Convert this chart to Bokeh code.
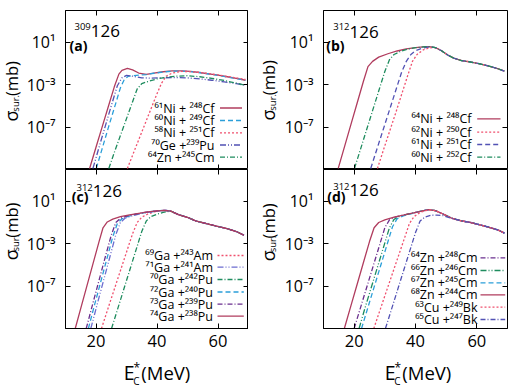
import numpy as np
from bokeh.plotting import figure
from bokeh.layouts import row, column
from bokeh.models import (Label, Arrow, FixedTicker, CustomJSTickFormatter, Range1d,
                          LogAxis, LinearAxis)
from bokeh.core.properties import value
from bokeh.embed import file_html
from bokeh.resources import INLINE

FONT = "Open Sans"
X_TICKS = [20, 40, 60]
Y_TICKS = [1e-7, 1e-3, 1e1]
X_LO, X_HI = 10, 70
Y_LO, Y_HI = 1e-11, 1e4

# ---------------- data: excitation energy E (MeV) and log10(sigma_sur / mb) ----------------
# panel (a)  309-126
a_E_61Ni248Cf = [17.9, 20, 22, 24, 26, 27.5, 28.5, 30.3, 32, 34, 36.5, 39, 42, 45, 48, 51, 54, 57, 60, 63, 66, 69]
a_L_61Ni248Cf = [-10.9, -8.9, -7.0, -5.1, -3.2, -2.0, -1.65, -1.46, -1.6, -1.9, -2.02, -1.9, -1.78, -1.7, -1.7, -1.75, -1.85, -1.97, -2.1, -2.25, -2.4, -2.58]
a_E_60Ni249Cf = [20.1, 22, 24, 26, 28, 29.3, 30.5, 32, 34, 36.5, 39, 42, 45, 48, 51, 54, 57, 60, 63, 66, 69]
a_L_60Ni249Cf = [-10.9, -9.05, -7.1, -5.2, -3.3, -2.5, -2.22, -2.15, -2.1, -2.04, -1.92, -1.8, -1.72, -1.72, -1.77, -1.87, -1.99, -2.12, -2.27, -2.42, -2.6]
a_E_58Ni251Cf = [30.3, 32, 34, 36, 38, 40, 41.5, 43, 45, 48, 51, 54, 57, 60, 63, 66, 69]
a_L_58Ni251Cf = [-10.9, -9.65, -8.2, -6.75, -5.3, -3.85, -2.85, -2.2, -1.9, -1.75, -1.76, -1.85, -1.96, -2.08, -2.22, -2.36, -2.5]
a_E_70Ge239Pu = [19.0, 21, 23, 25, 27, 28.5, 30, 32, 35, 38, 42, 46, 50, 54, 58, 62, 66, 69]
a_L_70Ge239Pu = [-10.9, -8.9, -6.95, -5.0, -3.1, -2.35, -2.12, -2.2, -2.35, -2.38, -2.35, -2.33, -2.36, -2.45, -2.58, -2.73, -2.9, -3.05]
a_E_64Zn245Cm = [24.2, 26, 28, 30, 32, 33.5, 35, 37, 40, 43, 46, 50, 54, 58, 62, 66, 69]
a_L_64Zn245Cm = [-10.9, -9.4, -7.8, -6.2, -4.6, -3.4, -2.9, -2.7, -2.45, -2.3, -2.2, -2.15, -2.25, -2.4, -2.6, -2.85, -3.05]

# panel (b)  312-126 (common tail after the maximum)
b_E_tail = [46.5, 48.5, 50.5, 52.5, 55, 58, 61, 64, 66.5, 69]
b_L_tail = [0.5, 0.2, -0.2, -0.5, -0.72, -0.86, -1.03, -1.25, -1.45, -1.72]
b_E_64Ni248Cf = [14.8, 17, 19, 21, 23, 24.5, 26, 28, 31, 34, 37, 40, 42.5, 44.5]
b_L_64Ni248Cf = [-10.9, -8.7, -6.7, -4.7, -2.7, -1.3, -0.8, -0.4, -0.08, 0.18, 0.38, 0.5, 0.57, 0.6]
b_E_62Ni250Cf = [27.6, 29.5, 31.5, 33.5, 35.5, 37.5, 39, 40.5, 42.5, 44.5]
b_L_62Ni250Cf = [-10.9, -9.2, -7.45, -5.7, -3.9, -2.1, -0.8, -0.15, 0.28, 0.48]
b_E_61Ni251Cf = [25.4, 27.5, 29.5, 31.5, 33.5, 35.5, 37, 38.5, 40, 42, 44.5]
b_L_61Ni251Cf = [-10.9, -9.0, -7.2, -5.4, -3.6, -1.8, -0.8, -0.15, 0.2, 0.42, 0.57]
b_E_60Ni252Cf = [20.1, 22, 24, 26, 28, 30, 31.5, 33, 35, 37.5, 40, 42.5, 44.5]
b_L_60Ni252Cf = [-10.9, -9.15, -7.3, -5.45, -3.6, -1.75, -0.65, -0.15, 0.13, 0.36, 0.49, 0.56, 0.6]

# panel (c)  312-126
c_E_tail = [44.5, 47, 50, 53, 56.5, 59.5, 63, 66, 68.5]
c_L_tail = [0.08, -0.25, -0.52, -0.88, -1.12, -1.35, -1.58, -1.85, -2.2]
c_E_69Ga243Am = [21.8, 24, 26, 28, 30, 32, 33.5, 35, 37, 39, 41, 42.5]
c_L_69Ga243Am = [-11, -9.05, -7.3, -5.55, -3.8, -2.05, -1.0, -0.5, -0.2, 0.0, 0.1, 0.15]
c_E_71Ga241Am = [18.3, 20.5, 22.5, 24.5, 26.5, 28, 29.5, 31.5, 34, 36.5, 39.5, 42.5]
c_L_71Ga241Am = [-11, -8.6, -6.45, -4.3, -2.15, -1.0, -0.6, -0.4, -0.2, -0.07, 0.06, 0.15]
c_E_70Ga242Pu = [25.1, 27, 29, 31, 33, 35, 36.5, 38, 40, 42]
c_L_70Ga242Pu = [-11, -9.25, -7.4, -5.55, -3.7, -1.85, -0.85, -0.45, -0.22, -0.05]
c_E_72Ga240Pu = [17.5, 19.5, 21.5, 23.5, 25.5, 27, 28.5, 30.5, 33, 36, 39, 42.5]
c_L_72Ga240Pu = [-11, -8.8, -6.65, -4.5, -2.35, -1.1, -0.65, -0.42, -0.22, -0.06, 0.06, 0.15]
c_E_73Ga239Pu = [16.8, 19, 21, 23, 25, 26.5, 28, 30, 33, 36, 39, 42.5]
c_L_73Ga239Pu = [-11, -8.6, -6.45, -4.3, -2.2, -1.0, -0.6, -0.4, -0.2, -0.05, 0.06, 0.15]
c_E_74Ga238Pu = [13.2, 15, 17, 19, 21, 22.3, 23.7, 25.5, 28, 31, 34, 37, 40, 42.5]
c_L_74Ga238Pu = [-11, -9.1, -7.0, -4.9, -2.8, -1.5, -0.95, -0.68, -0.45, -0.28, -0.13, 0.0, 0.1, 0.15]

# panel (d)  312-126
d_E_tail = [46.5, 49, 52, 55, 58, 61, 64, 67, 69]
d_L_tail = [0.12, -0.2, -0.62, -0.85, -1.0, -1.22, -1.45, -1.72, -2.0]
d_E_64Zn248Cm = [20, 22, 24, 26, 28, 30, 31.5, 33.5, 36, 39, 42, 44.3]
d_L_64Zn248Cm = [-11, -9.1, -7.2, -5.3, -3.4, -1.5, -0.75, -0.48, -0.3, -0.12, 0.08, 0.22]
d_E_66Zn246Cm = [21.6, 23.5, 25.5, 27.5, 29.5, 31.5, 33, 35, 37.5, 40, 42, 44.3]
d_L_66Zn246Cm = [-11, -9.1, -7.2, -5.3, -3.4, -1.5, -0.7, -0.4, -0.22, -0.05, 0.08, 0.22]
d_E_67Zn245Cm = [22.4, 24.5, 26.5, 28.5, 30.5, 32.5, 34, 36, 38.5, 41, 44.3]
d_L_67Zn245Cm = [-11, -9.0, -7.1, -5.2, -3.3, -1.4, -0.65, -0.38, -0.18, 0.02, 0.22]
d_E_68Zn244Cm = [16.8, 19, 21, 23, 25, 26.5, 28, 30, 33, 36, 39, 42, 44.3]
d_L_68Zn244Cm = [-11, -8.8, -6.8, -4.8, -2.8, -1.5, -1.0, -0.75, -0.5, -0.3, -0.12, 0.08, 0.22]
d_E_63Cu249Bk = [26.4, 28.5, 30.5, 32.5, 34.5, 36.5, 38, 39.5, 41.5, 44.3]
d_L_63Cu249Bk = [-11, -9.2, -7.5, -5.8, -4.1, -2.4, -1.1, -0.45, -0.05, 0.2]
d_E_65Cu247Bk = [30.2, 32, 34, 36, 38, 40, 41.5, 43, 45, 47, 49, 51, 52]
d_L_65Cu247Bk = [-11, -9.35, -7.5, -5.65, -3.8, -1.95, -0.85, -0.5, -0.32, -0.3, -0.35, -0.55, -0.62]

# ---------------- styles ----------------
RED = "#b03c5e"
LBLUE = "#2b9fd9"
PINK = "#f0506e"
PBLUE = "#5252b4"
DPURP = "#6a2f8e"
GREEN = "#1e8c5e"
SOLID, DASH, DOT, DDOT, DASHDOT = "solid", "5 3", "2 2", "6 2 1 2 1 2", "5 2 1 2"

panel_a = [("\u2076\u00b9Ni + \u00b2\u2074\u2078Cf", a_E_61Ni248Cf, a_L_61Ni248Cf, RED, SOLID),
           ("\u2076\u2070Ni + \u00b2\u2074\u2079Cf", a_E_60Ni249Cf, a_L_60Ni249Cf, LBLUE, DASH),
           ("\u2075\u2078Ni + \u00b2\u2075\u00b9Cf", a_E_58Ni251Cf, a_L_58Ni251Cf, PINK, DOT),
           ("\u2077\u2070Ge +\u00b2\u00b3\u2079Pu", a_E_70Ge239Pu, a_L_70Ge239Pu, PBLUE, DDOT),
           ("\u2076\u2074Zn +\u00b2\u2074\u2075Cm", a_E_64Zn245Cm, a_L_64Zn245Cm, GREEN, DASHDOT)]
panel_b = [("\u2076\u2074Ni + \u00b2\u2074\u2078Cf", b_E_64Ni248Cf + b_E_tail, b_L_64Ni248Cf + b_L_tail, RED, SOLID),
           ("\u2076\u00b2Ni + \u00b2\u2075\u2070Cf", b_E_62Ni250Cf + b_E_tail, b_L_62Ni250Cf + b_L_tail, PINK, DOT),
           ("\u2076\u00b9Ni + \u00b2\u2075\u00b9Cf", b_E_61Ni251Cf + b_E_tail, b_L_61Ni251Cf + b_L_tail, PBLUE, DASH),
           ("\u2076\u2070Ni + \u00b2\u2075\u00b2Cf", b_E_60Ni252Cf + b_E_tail, b_L_60Ni252Cf + b_L_tail, GREEN, DASHDOT)]
panel_c = [("\u2076\u2079Ga +\u00b2\u2074\u00b3Am", c_E_69Ga243Am + c_E_tail, c_L_69Ga243Am + c_L_tail, PINK, DOT),
           ("\u2077\u00b9Ga +\u00b2\u2074\u00b9Am", c_E_71Ga241Am + c_E_tail, c_L_71Ga241Am + c_L_tail, "#6c6cd0", DDOT),
           ("\u2077\u2070Ga +\u00b2\u2074\u00b2Pu", c_E_70Ga242Pu + c_E_tail, c_L_70Ga242Pu + c_L_tail, GREEN, DASHDOT),
           ("\u2077\u00b2Ga +\u00b2\u2074\u2070Pu", c_E_72Ga240Pu + c_E_tail, c_L_72Ga240Pu + c_L_tail, LBLUE, DASH),
           ("\u2077\u00b3Ga +\u00b2\u00b3\u2079Pu", c_E_73Ga239Pu + c_E_tail, c_L_73Ga239Pu + c_L_tail, DPURP, DASHDOT),
           ("\u2077\u2074Ga +\u00b2\u00b3\u2078Pu", c_E_74Ga238Pu + c_E_tail, c_L_74Ga238Pu + c_L_tail, RED, SOLID)]
panel_d = [("\u2076\u2074Zn +\u00b2\u2074\u2078Cm", d_E_64Zn248Cm + d_E_tail, d_L_64Zn248Cm + d_L_tail, DPURP, DASHDOT),
           ("\u2076\u2076Zn +\u00b2\u2074\u2076Cm", d_E_66Zn246Cm + d_E_tail, d_L_66Zn246Cm + d_L_tail, GREEN, DDOT),
           ("\u2076\u2077Zn +\u00b2\u2074\u2075Cm", d_E_67Zn245Cm + d_E_tail, d_L_67Zn245Cm + d_L_tail, LBLUE, DASH),
           ("\u2076\u2078Zn +\u00b2\u2074\u2074Cm", d_E_68Zn244Cm + d_E_tail, d_L_68Zn244Cm + d_L_tail, RED, SOLID),
           ("\u2076\u00b3Cu +\u00b2\u2074\u2079Bk", d_E_63Cu249Bk + d_E_tail, d_L_63Cu249Bk + d_L_tail, PINK, DOT),
           ("\u2076\u2075Cu +\u00b2\u2074\u2077Bk", d_E_65Cu247Bk + d_E_tail[3:], d_L_65Cu247Bk + d_L_tail[3:], PBLUE, DASHDOT)]

SUPJS = """
const m = {"-":"\\u207b","0":"\\u2070","1":"\\u00b9","2":"\\u00b2","3":"\\u00b3","4":"\\u2074",
           "5":"\\u2075","6":"\\u2076","7":"\\u2077","8":"\\u2078","9":"\\u2079"};
const e = Math.round(Math.log10(tick));
return "10" + String(e).split("").map(c => m[c]).join("");
"""
EMPTYJS = "return '';"


def tick_only(axis_cls, ticks, loc):
    return axis_cls(ticker=FixedTicker(ticks=ticks), fixed_location=loc,
                    formatter=CustomJSTickFormatter(code=EMPTYJS),
                    major_label_text_font=FONT, major_label_text_font_size="10px",
                    major_tick_in=5, major_tick_out=0, minor_tick_line_color=None,
                    axis_line_color="black")


def make_panel(series, w, h, left, right, top, bottom, xlabels):
    p = figure(width=w, height=h, y_axis_type="log", x_range=Range1d(X_LO, X_HI),
               y_range=Range1d(Y_LO, Y_HI), output_backend="svg", toolbar_location=None,
               min_border_left=left, min_border_right=right, min_border_top=top,
               min_border_bottom=bottom, background_fill_color="white",
               border_fill_color="white", x_axis_location=None)
    p.grid.visible = False
    p.outline_line_color = "black"
    p.outline_line_width = 1
    for lab, E, L, col, dash in series:
        p.line(E, 10.0 ** np.array(L), line_color=col, line_width=1.3, line_dash=dash)
    ya = p.yaxis[0]
    ya.major_tick_in = 5
    ya.major_tick_out = 0
    ya.minor_tick_line_color = None
    ya.axis_line_color = "black"
    ya.major_label_text_font = FONT
    ya.major_label_text_color = "black"
    ya.ticker = FixedTicker(ticks=Y_TICKS)
    ya.formatter = CustomJSTickFormatter(code=SUPJS)
    ya.major_label_text_font_size = "16px"
    ya.major_label_standoff = 10
    if xlabels:
        xa = LinearAxis(ticker=FixedTicker(ticks=X_TICKS), major_tick_in=5, major_tick_out=0,
                        minor_tick_line_color=None, axis_line_color="black",
                        major_label_text_font=FONT, major_label_text_color="black",
                        major_label_text_font_size="16.5px", major_label_standoff=6)
        p.add_layout(xa, "below")
    else:
        p.add_layout(tick_only(LinearAxis, X_TICKS, Y_LO), "below")
    p.add_layout(tick_only(LogAxis, Y_TICKS, X_HI), "right")
    p.add_layout(tick_only(LinearAxis, X_TICKS, Y_HI), "above")
    return p


def holder(w, h):
    f = figure(width=w, height=h, x_range=Range1d(0, w), y_range=Range1d(0, h),
               output_backend="svg", toolbar_location=None, min_border=0,
               x_axis_location=None, y_axis_location=None, outline_line_color=None,
               background_fill_color="white", border_fill_color="white")
    f.grid.visible = False
    return f


def htext(f, h, x, y, text, size, angle=0.0):
    # (x, y): left end / vertical middle of the text, in pixels from the holder's top-left
    f.text(x=[x], y=[h - y], text=[text], angle=angle, text_font=value(FONT),
           text_font_size=value(f"{size}px"), text_align=value("left"),
           text_baseline=value("middle"), text_color="black")


def put(p, fr, gx, gy, text, size, align="left", bold=False):
    p.add_layout(Label(x=gx - fr[0], y=fr[1] - gy, x_units="screen", y_units="screen",
                       text=text, text_font=FONT, text_font_size=f"{size}px",
                       text_align=align, text_baseline="middle",
                       text_color="black", text_font_style="bold" if bold else "normal"))


def legend(p, fr, series, text_right, x0, x1, rows):
    for (lab, E, L, col, dash), gy in zip(series, rows):
        p.add_layout(Label(x=text_right - fr[0], y=fr[1] - gy, x_units="screen", y_units="screen",
                           text=lab, text_font=FONT, text_font_size="12.5px",
                           text_align="right", text_baseline="middle", text_color="black"))
        p.add_layout(Arrow(x_start=x0 - fr[0], y_start=fr[1] - gy, x_end=x1 - fr[0], y_end=fr[1] - gy,
                           start_units="screen", end_units="screen", start=None, end=None,
                           line_color=col, line_width=1.3, line_dash=dash))


def ylabel(f, h, base, y0):
    # base: x of the text baseline; y0: bottom end of the rotated label
    htext(f, h, base - 0.39 * 18, y0, "\u03c3", 18, angle=np.pi / 2)
    htext(f, h, base + 1.2 - 0.39 * 9.5, y0 - 10.5, "sur.", 9.5, angle=np.pi / 2)
    htext(f, h, base - 0.39 * 16.5, y0 - 27.0, "(mb)", 16.5, angle=np.pi / 2)


def xlabel(f, h, x0, top):
    htext(f, h, x0, 372.2 - top, "E", 19.5)
    htext(f, h, x0 + 9.5, 380.0 - top, "C", 10)
    htext(f, h, x0 + 9.8, 366.5 - top, "*", 12)
    htext(f, h, x0 + 17.5, 372.2 - top, "(MeV)", 18.5)


def title(p, fr, gx, y_sup, y_main, sup, letter, lx, y_let):
    put(p, fr, gx, y_sup, sup, 9.5, align="right")
    put(p, fr, gx, y_main, "126", 17)
    put(p, fr, lx, y_let, letter, 14, bold=True)


# frame origins (left, bottom) in page pixels
FA, FB, FC, FD = (62, 169), (323, 169), (62, 328), (323, 328)

pa = make_panel(panel_a, 225, 169, 39, 0, 10, 0, False)
pb = make_panel(panel_b, 228, 169, 43, 1, 10, 0, False)
pc = make_panel(panel_c, 225, 189, 39, 0, 0, 30, True)
pd = make_panel(panel_d, 228, 189, 43, 1, 0, 30, True)

la, lb = holder(23, 169), holder(32, 169)
lc, ld = holder(23, 189), holder(32, 189)
xl = holder(508, 32)

title(pa, FA, 87.3, 25.5, 30.6, "309", "(a)", 66, 44.8)
title(pb, FB, 349, 26.0, 31.0, "312", "(b)", 325.7, 44.8)
title(pc, FC, 89.3, 186.5, 190.0, "312", "(c)", 68.3, 195.5)
title(pd, FD, 349, 185.5, 189.3, "312", "(d)", 326.7, 196.3)

legend(pa, FA, panel_a, 211, 216.5, 238.5, [107.5, 120, 132.3, 144.5, 156.7])
legend(pb, FB, panel_b, 471, 476.7, 500, [118.3, 131.7, 144, 156.7])
legend(pc, FC, panel_c, 209.5, 214, 240.3, [255, 266.7, 279, 291.5, 303.7, 315.7])
legend(pd, FD, panel_d, 477, 480, 504.7, [257.3, 270, 282.3, 294.3, 306.7, 319])

ylabel(la, 169, 17.5, 118)
ylabel(lb, 169, 26.5, 117)
ylabel(lc, 189, 17.5, 108)
ylabel(ld, 189, 26.5, 109)

xlabel(xl, 32, 123.3, 358)
xlabel(xl, 32, 384.3, 358)

layout = column(row(la, pa, lb, pb), row(lc, pc, ld, pd), xl)
open("out.html", "w", encoding="utf-8").write(file_html(layout, INLINE))
